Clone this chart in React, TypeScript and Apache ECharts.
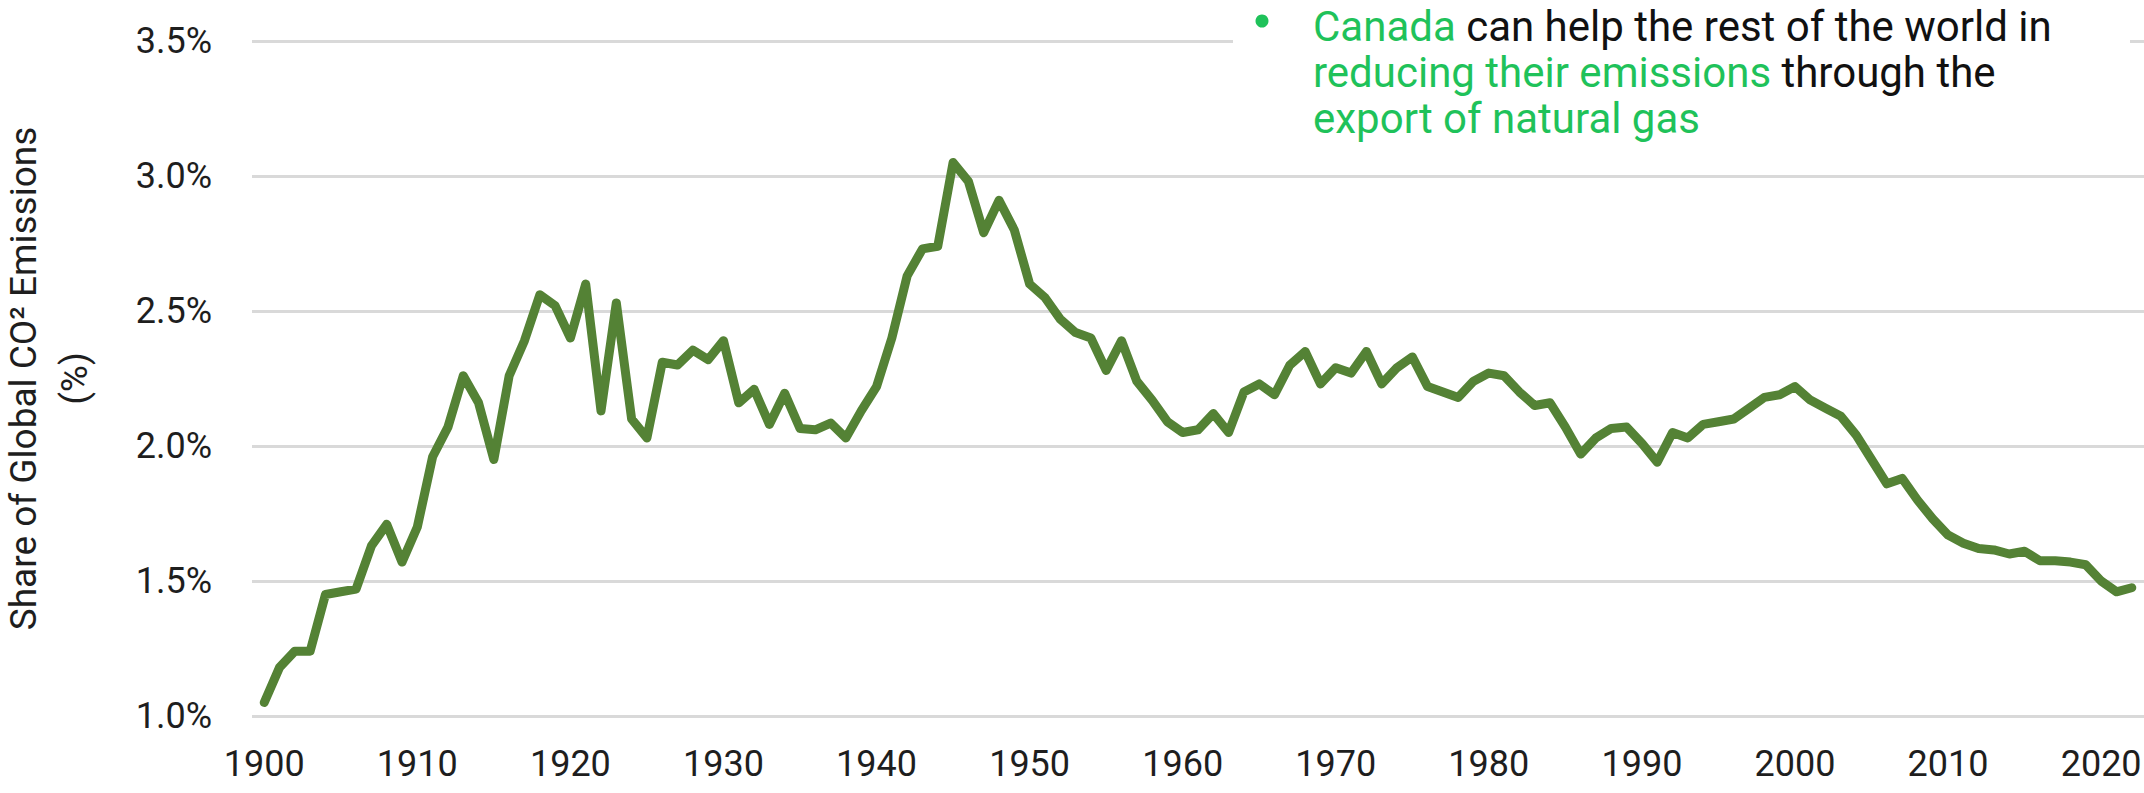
import React, { useEffect, useRef } from "react";
import * as echarts from "echarts";

const START_YEAR = 1900;

const shareValues: number[] = [
  1.05, 1.18, 1.24, 1.24, 1.45, 1.46, 1.47, 1.63, 1.71, 1.57, // 1900-1909
  1.7, 1.96, 2.07, 2.26, 2.16, 1.95, 2.26, 2.39, 2.56, 2.52, // 1910-1919
  2.4, 2.6, 2.13, 2.53, 2.1, 2.03, 2.31, 2.3, 2.355, 2.32, // 1920-1929
  2.39, 2.16, 2.21, 2.08, 2.195, 2.065, 2.06, 2.085, 2.03, 2.13, // 1930-1939
  2.22, 2.4, 2.63, 2.73, 2.74, 3.05, 2.98, 2.79, 2.91, 2.8, // 1940-1949
  2.6, 2.55, 2.47, 2.42, 2.4, 2.28, 2.39, 2.24, 2.17, 2.09, // 1950-1959
  2.05, 2.06, 2.12, 2.05, 2.2, 2.23, 2.19, 2.3, 2.35, 2.23, // 1960-1969
  2.29, 2.27, 2.35, 2.23, 2.29, 2.33, 2.22, 2.2, 2.18, 2.24, // 1970-1979
  2.27, 2.26, 2.2, 2.15, 2.16, 2.07, 1.97, 2.03, 2.065, 2.07, // 1980-1989
  2.01, 1.94, 2.05, 2.03, 2.08, 2.09, 2.1, 2.14, 2.18, 2.19, // 1990-1999
  2.22, 2.17, 2.14, 2.11, 2.04, 1.95, 1.86, 1.88, 1.8, 1.73, // 2000-2009
  1.67, 1.64, 1.62, 1.615, 1.6, 1.61, 1.575, 1.575, 1.57, 1.56, // 2010-2019
  1.5, 1.46, 1.475, // 2020-2022
];

const years: number[] = shareValues.map((_, i) => START_YEAR + i);

const xTickLabels: number[] = [1900, 1910, 1920, 1930, 1940, 1950, 1960, 1970, 1980, 1990, 2000, 2010, 2020];

const yAxisTitle = "Share of Global CO\u00B2 Emissions\n(%)";
const noteLines: string[] = [
  "{g|Canada} can help the rest of the world in",
  "{g|reducing their emissions} through the",
  "{g|export of natural gas}",
];

const LINE_COLOR = "#548235";
const NOTE_GREEN = "#1fc25a";
const TEXT_COLOR = "#1e1e1e";
const FONT = "Roboto, 'Noto Sans', Arial, sans-serif";

export default function App() {
  const ref = useRef<HTMLDivElement | null>(null);

  useEffect(() => {
    if (!ref.current) return;
    const chart = echarts.init(ref.current, undefined, { renderer: "svg" });
    chart.setOption({
      animation: false,
      backgroundColor: "#ffffff",
      textStyle: { fontFamily: FONT },
      grid: {
        left: 252,
        right: 0,
        top: 41,
        bottom: 77,
        containLabel: false,
        outerBoundsMode: "none",
      },
      xAxis: {
        type: "value",
        min: 1899.2,
        max: 2022.8,
        axisLine: { show: false },
        axisTick: { show: false },
        splitLine: { show: false },
        axisLabel: {
          customValues: xTickLabels,
          fontSize: 36,
          color: TEXT_COLOR,
          fontFamily: FONT,
          margin: 30,
          formatter: (v: number) => String(Math.round(v)),
        },
      },
      yAxis: {
        type: "value",
        min: 1,
        max: 3.5,
        interval: 0.5,
        axisLine: { show: false },
        axisTick: { show: false },
        splitLine: { lineStyle: { color: "#d9d9d9", width: 3 } },
        axisLabel: {
          fontSize: 36,
          color: TEXT_COLOR,
          fontFamily: FONT,
          margin: 40,
          formatter: (v: number) => v.toFixed(1) + "%",
        },
        name: yAxisTitle,
        nameLocation: "middle",
        nameGap: 152,
        nameTextStyle: {
          fontSize: 37,
          lineHeight: 51,
          color: TEXT_COLOR,
          fontFamily: FONT,
          align: "center",
        },
      },
      series: [
        {
          type: "line",
          data: years.map((y, i) => [y, shareValues[i]]),
          showSymbol: false,
          symbol: "none",
          smooth: false,
          lineStyle: { color: LINE_COLOR, width: 9, cap: "round", join: "round" },
          z: 3,
        },
      ],
      graphic: [
        {
          type: "rect",
          left: 1233,
          top: 0,
          shape: { width: 897, height: 150 },
          style: { fill: "#ffffff" },
          z: 10,
        },
        {
          type: "circle",
          shape: { cx: 1262, cy: 21, r: 6.5 },
          style: { fill: NOTE_GREEN },
          z: 11,
        },
        {
          type: "text",
          left: 1313,
          top: 3,
          z: 11,
          style: {
            text: noteLines.join("\n"),
            fontSize: 42,
            lineHeight: 46,
            fill: "#111111",
            fontFamily: FONT,
            rich: {
              g: { fill: NOTE_GREEN, fontSize: 42, lineHeight: 46, fontFamily: FONT },
            },
          },
        },
      ],
    });
    return () => chart.dispose();
  }, []);

  return (
    <div
      ref={ref}
      style={{ position: "fixed", left: 0, top: 0, width: 2144, height: 793, background: "#ffffff" }}
    />
  );
}
